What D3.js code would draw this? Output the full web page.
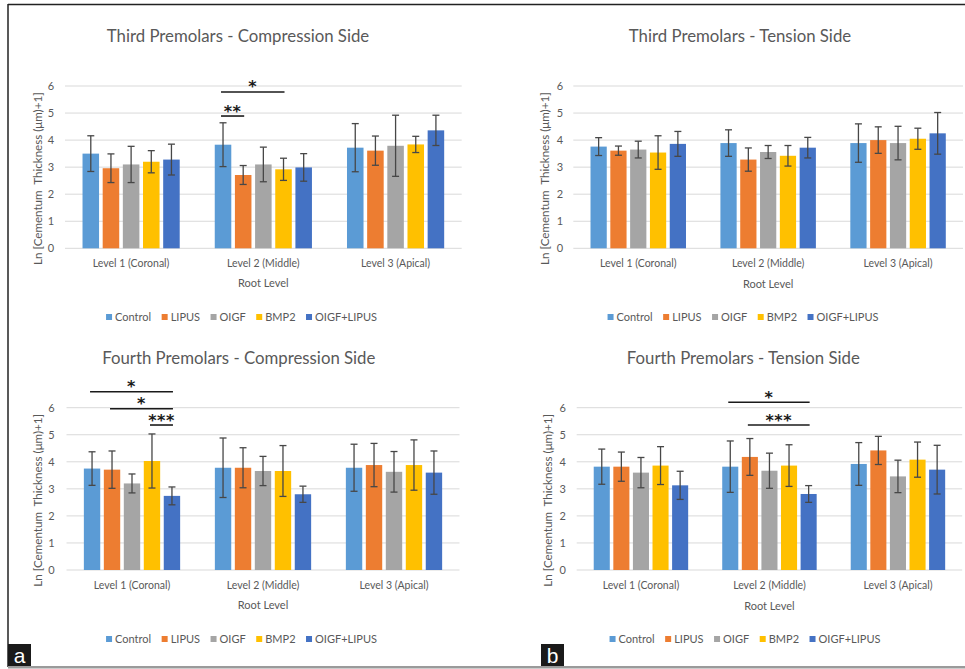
<!DOCTYPE html>
<html>
<head>
<meta charset="utf-8">
<script src="https://cdn.jsdelivr.net/npm/d3@7"></script>
<style>
  html, body { margin: 0; padding: 0; background: #fff; }
  svg { display: block; font-family: Lato, "Open Sans", sans-serif; }
</style>
</head>
<body>
<svg id="fig" width="965" height="669"></svg>
<script>
// Root levels, treatment groups and axis ticks
const categories = ["Level 1 (Coronal)", "Level 2 (Middle)", "Level 3 (Apical)"];
const groups = ["Control", "LIPUS", "OIGF", "BMP2", "OIGF+LIPUS"];
const groupColors = ["#5B9BD5", "#ED7D31", "#A5A5A5", "#FFC000", "#4472C4"];
const yTicks = [0, 1, 2, 3, 4, 5, 6];

// Means (rows = root level, columns = group) and error half-widths
const thirdCompMean = [[3.50, 2.96, 3.10, 3.20, 3.28], [3.83, 2.71, 3.10, 2.92, 2.99], [3.72, 3.61, 3.79, 3.84, 4.36]];
const thirdCompErr  = [[0.66, 0.53, 0.67, 0.41, 0.57], [0.81, 0.35, 0.64, 0.41, 0.51], [0.89, 0.54, 1.13, 0.30, 0.56]];

const thirdTensMean = [[3.76, 3.61, 3.65, 3.54, 3.86], [3.89, 3.28, 3.56, 3.42, 3.72], [3.89, 4.00, 3.89, 4.05, 4.25]];
const thirdTensErr  = [[0.33, 0.17, 0.31, 0.62, 0.46], [0.49, 0.43, 0.24, 0.38, 0.38], [0.71, 0.49, 0.62, 0.39, 0.77]];

const fourthCompMean = [[3.75, 3.71, 3.20, 4.03, 2.74], [3.78, 3.78, 3.66, 3.66, 2.80], [3.78, 3.88, 3.63, 3.88, 3.60]];
const fourthCompErr  = [[0.62, 0.69, 0.35, 1.00, 0.33], [1.10, 0.74, 0.54, 0.94, 0.30], [0.87, 0.80, 0.75, 0.93, 0.80]];

const fourthTensMean = [[3.82, 3.82, 3.60, 3.86, 3.13], [3.82, 4.18, 3.67, 3.86, 2.81], [3.92, 4.42, 3.46, 4.08, 3.71]];
const fourthTensErr  = [[0.65, 0.54, 0.56, 0.70, 0.52], [0.95, 0.68, 0.65, 0.77, 0.31], [0.79, 0.52, 0.60, 0.65, 0.90]];

// Significance brackets: root level, compared groups, bracket height (axis units), marker
const thirdCompSig = [
  { level: 1, from: "Control", to: "BMP2", at: 5.78, mark: "*" },
  { level: 1, from: "Control", to: "LIPUS", at: 4.89, mark: "**" }
];
const thirdTensSig = [];
const fourthCompSig = [
  { level: 0, from: "Control", to: "OIGF+LIPUS", at: 6.59, mark: "*" },
  { level: 0, from: "LIPUS", to: "OIGF+LIPUS", at: 5.96, mark: "*" },
  { level: 0, from: "BMP2", to: "OIGF+LIPUS", at: 5.36, mark: "***" }
];
const fourthTensSig = [
  { level: 1, from: "Control", to: "OIGF+LIPUS", at: 6.20, mark: "*" },
  { level: 1, from: "LIPUS", to: "OIGF+LIPUS", at: 5.36, mark: "***" }
];

const panels = [
  { title: "Third Premolars - Compression Side", mean: thirdCompMean, err: thirdCompErr, sig: thirdCompSig,
    titleX: 238, titleY: 36, x0: 65, x1: 461.7, yTop: 86, yZero: 248.3, tickX: 51, yTitleX: 38,
    catY: 263, rootY: 283, legendX: 241.5, legendY: 317 },
  { title: "Third Premolars - Tension Side", mean: thirdTensMean, err: thirdTensErr, sig: thirdTensSig,
    titleX: 740, titleY: 36, x0: 573.3, x1: 963, yTop: 86, yZero: 248.3, tickX: 560, yTitleX: 545,
    catY: 263, rootY: 284, legendX: 743, legendY: 317 },
  { title: "Fourth Premolars - Compression Side", mean: fourthCompMean, err: fourthCompErr, sig: fourthCompSig,
    titleX: 238.8, titleY: 358.3, x0: 66.5, x1: 459.5, yTop: 407.7, yZero: 570, tickX: 51.5, yTitleX: 38,
    catY: 585.7, rootY: 605, legendX: 241.5, legendY: 639 },
  { title: "Fourth Premolars - Tension Side", mean: fourthTensMean, err: fourthTensErr, sig: fourthTensSig,
    titleX: 743.3, titleY: 358.3, x0: 576.7, x1: 962.2, yTop: 407.7, yZero: 570, tickX: 562.7, yTitleX: 548,
    catY: 585.7, rootY: 605.7, legendX: 745, legendY: 639 }
];

const svg = d3.select("#fig");
const textGray = "#595959";

// Outer frame
svg.append("line").attr("x1", 8).attr("x2", 965).attr("y1", 4.5).attr("y2", 4.5)
  .attr("stroke", "#222").attr("stroke-width", 1.5);
svg.append("line").attr("x1", 8).attr("x2", 8).attr("y1", 4).attr("y2", 667)
  .attr("stroke", "#222").attr("stroke-width", 1.5);
svg.append("line").attr("x1", 8).attr("x2", 965).attr("y1", 667.3).attr("y2", 667.3)
  .attr("stroke", "#9a9a9a").attr("stroke-width", 2.6);

panels.forEach(p => {
  const g = svg.append("g");
  const x = d3.scaleBand().domain(categories).range([p.x0, p.x1]).padding(0);
  const bw = x.bandwidth();
  const groupW = bw * 0.735;
  const xi = d3.scaleBand().domain(groups).range([(bw - groupW) / 2, (bw + groupW) / 2]).paddingInner(0.18);
  const y = d3.scaleLinear().domain([0, 6]).range([p.yZero, p.yTop]);

  // Title
  g.append("text").attr("x", p.titleX).attr("y", p.titleY).attr("dy", "0.35em")
    .attr("text-anchor", "middle").attr("font-size", 16.8).attr("fill", textGray).text(p.title);

  // Gridlines
  g.append("g").selectAll("line").data(yTicks).join("line")
    .attr("x1", p.x0).attr("x2", p.x1)
    .attr("y1", d => y(d)).attr("y2", d => y(d))
    .attr("stroke", "#D9D9D9").attr("stroke-width", 1);

  // Y axis labels via d3 axis (no domain / ticks drawn)
  const yAxis = g.append("g").attr("transform", `translate(${p.tickX + 3},0)`)
    .call(d3.axisLeft(y).tickValues(yTicks).tickSize(0).tickPadding(0).tickFormat(d3.format("d")));
  yAxis.select(".domain").remove();
  yAxis.selectAll("text").attr("font-family", "Lato, sans-serif").attr("font-size", 11)
    .attr("fill", textGray).attr("text-anchor", "middle").attr("x", -3);

  // Category axis labels
  const xAxis = g.append("g").attr("transform", `translate(0,${p.catY})`)
    .call(d3.axisBottom(x).tickSize(0).tickPadding(0));
  xAxis.select(".domain").remove();
  xAxis.selectAll("text").attr("font-family", "Lato, sans-serif").attr("font-size", 10.5)
    .attr("fill", textGray).attr("dy", "0.35em").attr("y", 0);

  // Axis titles
  g.append("text").attr("x", (p.x0 + p.x1) / 2).attr("y", p.rootY).attr("dy", "0.35em")
    .attr("text-anchor", "middle").attr("font-size", 11).attr("fill", textGray).text("Root Level");
  g.append("text")
    .attr("transform", `translate(${p.yTitleX},${(p.yTop + p.yZero) / 2 + 11.5}) rotate(-90)`)
    .attr("dy", "0.35em").attr("text-anchor", "middle").attr("font-size", 11.6)
    .attr("fill", textGray).style("white-space", "pre")
    .text("Ln [Cementum  Thickness (\u03bcm)+1]");

  // Bars and error bars
  const rows = [];
  categories.forEach((c, ci) => groups.forEach((gr, gi) => {
    rows.push({ cat: c, grp: gr, gi: gi, v: p.mean[ci][gi], e: p.err[ci][gi] });
  }));
  g.append("g").selectAll("rect").data(rows).join("rect")
    .attr("x", d => x(d.cat) + xi(d.grp)).attr("width", xi.bandwidth())
    .attr("y", d => y(d.v)).attr("height", d => y(0) - y(d.v))
    .attr("fill", d => groupColors[d.gi]);
  const eb = g.append("g").attr("stroke", "#474747").attr("stroke-width", 1.3).attr("fill", "none");
  rows.forEach(d => {
    const cx = x(d.cat) + xi(d.grp) + xi.bandwidth() / 2;
    eb.append("line").attr("x1", cx).attr("x2", cx).attr("y1", y(d.v + d.e)).attr("y2", y(d.v - d.e));
    eb.append("line").attr("x1", cx - 3.5).attr("x2", cx + 3.5).attr("y1", y(d.v + d.e)).attr("y2", y(d.v + d.e));
    eb.append("line").attr("x1", cx - 3.5).attr("x2", cx + 3.5).attr("y1", y(d.v - d.e)).attr("y2", y(d.v - d.e));
  });

  // Significance brackets
  p.sig.forEach(s => {
    const c = categories[s.level];
    const xa = x(c) + xi(s.from) + xi.bandwidth() / 2 - 2;
    const xb = x(c) + xi(s.to) + xi.bandwidth() / 2 + 1;
    g.append("line").attr("x1", xa).attr("x2", xb).attr("y1", y(s.at)).attr("y2", y(s.at))
      .attr("stroke", "#1a1a1a").attr("stroke-width", 1.6);
    g.append("text").attr("x", (xa + xb) / 2).attr("y", y(s.at) + 0.5)
      .attr("text-anchor", "middle").attr("font-family", "DejaVu Sans, sans-serif")
      .attr("font-weight", "bold").attr("font-size", 16).attr("fill", "#1a1a1a")
      .attr("letter-spacing", 0.5).text(s.mark);
  });

  // Legend, centred under the chart
  const leg = g.append("g");
  let cursor = 0;
  groups.forEach((gr, gi) => {
    const item = leg.append("g").attr("transform", `translate(${cursor},0)`);
    item.append("rect").attr("x", 0).attr("y", -3).attr("width", 6).attr("height", 6).attr("fill", groupColors[gi]);
    const t = item.append("text").attr("x", 9).attr("y", 0).attr("dy", "0.35em")
      .attr("font-size", 11).attr("fill", textGray).text(gr);
    cursor += 9 + t.node().getComputedTextLength() + 10.5;
  });
  const legW = cursor - 10.5;
  leg.attr("transform", `translate(${p.legendX - legW / 2},${p.legendY})`);
});

// Part labels
[{ t: "a", x: 8 }, { t: "b", x: 541 }].forEach(l => {
  svg.append("rect").attr("x", l.x).attr("y", 644).attr("width", 23).attr("height", 22).attr("fill", "#1a1a1a");
  svg.append("text").attr("x", l.x + 11.5).attr("y", 655).attr("dy", "0.36em").attr("text-anchor", "middle")
    .attr("font-family", "Liberation Sans, Arial, sans-serif").attr("font-size", 21).attr("fill", "#fff").text(l.t);
});
</script>
</body>
</html>
